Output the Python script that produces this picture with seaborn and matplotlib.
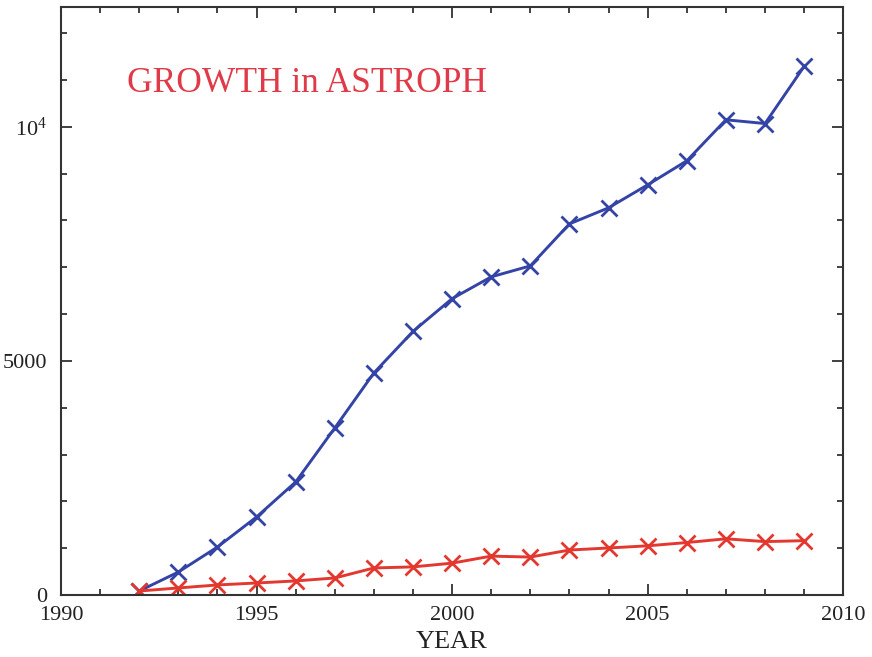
import numpy as np
import pandas as pd
import matplotlib
matplotlib.use("Agg")
import matplotlib.pyplot as plt
from matplotlib.ticker import MultipleLocator, FixedLocator, FixedFormatter
import seaborn as sns

years = list(range(1992, 2010))
total_papers = [85, 490, 1025, 1667, 2415, 3568, 4744, 5630, 6330, 6795,
                7030, 7927, 8270, 8761, 9274, 10150, 10070, 11290]
subset_papers = [85, 150, 214, 256, 300, 363, 577, 600, 680, 830,
                 810, 960, 1004, 1050, 1120, 1200, 1140, 1160]
series_names = ["total", "subset"]
y_tick_values = [0, 5000, 10000]
y_tick_labels = ["0", "5000", r"$10^4$"]
x_tick_values = [1990, 1995, 2000, 2005, 2010]

df = pd.concat([
    pd.DataFrame({"year": years, "count": total_papers, "series": series_names[0]}),
    pd.DataFrame({"year": years, "count": subset_papers, "series": series_names[1]}),
])

sns.set_style("ticks")
plt.rcParams["font.family"] = ["Liberation Serif", "DejaVu Serif"]
plt.rcParams["mathtext.fontset"] = "custom"
plt.rcParams["mathtext.rm"] = "Liberation Serif"
plt.rcParams["mathtext.it"] = "Liberation Serif"

fig = plt.figure(figsize=(8.72, 6.57), dpi=100)
ax = fig.add_axes([0.070, 0.0944, 0.897, 0.895])

palette = {"total": "#3443a6", "subset": "#e3382f"}
sns.lineplot(data=df, x="year", y="count", hue="series", palette=palette,
             marker="x", markersize=11, markeredgewidth=2.0, linewidth=2.1,
             legend=False, ax=ax)
# cross markers take the colour of their own line
for line in ax.lines:
    line.set_markeredgecolor(line.get_color())
    line.set_markerfacecolor(line.get_color())

ax.set_xlim(1990, 2010)
ax.set_ylim(0, 12560)
ax.xaxis.set_major_locator(FixedLocator(x_tick_values))
ax.xaxis.set_minor_locator(MultipleLocator(1))
ax.yaxis.set_major_locator(FixedLocator(y_tick_values))
ax.yaxis.set_major_formatter(FixedFormatter(y_tick_labels))
ax.yaxis.set_minor_locator(MultipleLocator(1000))

ax.tick_params(which="both", direction="in", top=True, right=True,
               color="#333333", labelcolor="#222222", labelsize=16)
ax.tick_params(axis="x", which="major", pad=8)
ax.tick_params(axis="y", which="major", pad=10)
ax.tick_params(which="major", length=8, width=1.3)
ax.tick_params(which="minor", length=4.5, width=1.3)
for s in ax.spines.values():
    s.set_color("#333333")
    s.set_linewidth(1.5)

ax.set_xlabel("YEAR", fontsize=19, color="#222222", labelpad=4)
ax.set_ylabel("")
ax.text(0.084, 0.870, "GROWTH in ASTROPH", transform=ax.transAxes,
        fontsize=25.5, color="#e03a48", ha="left", va="center")

fig.savefig("out.png", dpi=100)
